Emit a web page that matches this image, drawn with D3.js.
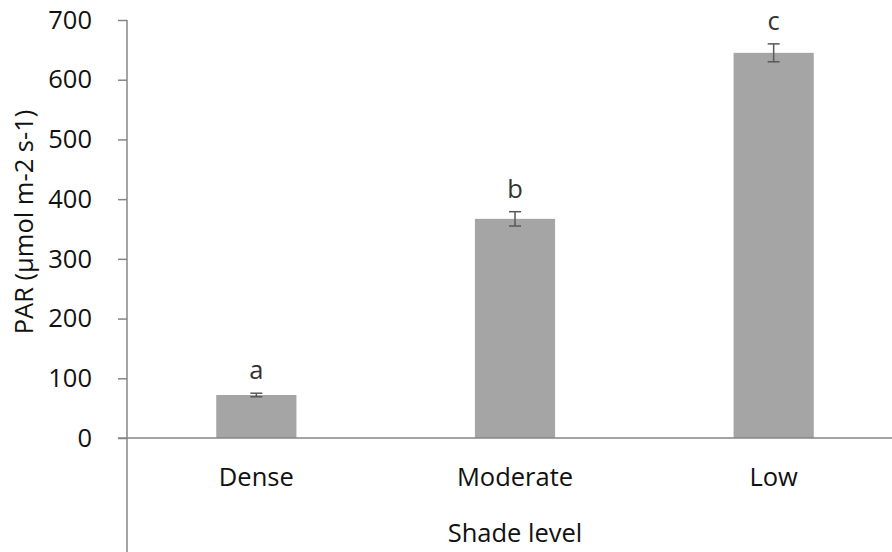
<!DOCTYPE html>
<html>
<head>
<meta charset="utf-8">
<script src="https://cdn.jsdelivr.net/npm/d3@7"></script>
<style>
  html, body { margin: 0; padding: 0; background: #fff; }
  svg { display: block; font-family: "Open Sans", "Noto Sans", sans-serif; }
</style>
</head>
<body>
<svg id="chart" width="892" height="552"></svg>
<script>
// Mean PAR under each shade level, with standard errors and significance letters
const categories = ["Dense", "Moderate", "Low"];
const parMeans = [72, 367, 645];
const parErrors = [3, 12, 15];
const sigLetters = ["a", "b", "c"];
const yTicks = [0, 100, 200, 300, 400, 500, 600, 700];

const svg = d3.select("#chart");
const W = 892, H = 552;
const x0 = 127, yTop = 20, yZero = 438;
const fs = 25.5;

const y = d3.scaleLinear().domain([0, 700]).range([yZero, yTop]);
const x = d3.scaleBand()
  .domain(categories)
  .range([x0, x0 + 776])
  .paddingInner(0.69)
  .paddingOuter(0.345);

const axisColor = "#868686";
const textColor = "#111";

// Y axis
const yAxis = d3.axisLeft(y).tickValues(yTicks).tickSize(9).tickPadding(26).tickFormat(d3.format("d"));
const gy = svg.append("g").attr("transform", `translate(${x0},0)`).call(yAxis);
gy.select(".domain").remove();
gy.selectAll(".tick line").attr("stroke", axisColor).attr("stroke-width", 1.5);
gy.selectAll(".tick text").attr("fill", textColor).attr("font-size", fs).attr("font-family", "Open Sans, sans-serif");
// vertical axis line continues down past the category labels
svg.append("line")
  .attr("x1", x0).attr("x2", x0)
  .attr("y1", y(700)).attr("y2", H)
  .attr("stroke", axisColor).attr("stroke-width", 1.5);

// Bars
svg.append("g").selectAll("rect")
  .data(categories)
  .join("rect")
  .attr("x", d => x(d))
  .attr("width", x.bandwidth())
  .attr("y", (d, i) => y(parMeans[i]))
  .attr("height", (d, i) => y(0) - y(parMeans[i]))
  .attr("fill", "#a5a5a5");

// X axis line at zero
svg.append("line")
  .attr("x1", x0 - 9).attr("x2", W)
  .attr("y1", y(0)).attr("y2", y(0))
  .attr("stroke", axisColor).attr("stroke-width", 1.5);

// Error bars
const eb = svg.append("g").attr("stroke", "#595959").attr("stroke-width", 1.5);
categories.forEach((c, i) => {
  const cx = x(c) + x.bandwidth() / 2;
  const lo = y(parMeans[i] - parErrors[i]);
  const hi = y(parMeans[i] + parErrors[i]);
  eb.append("line").attr("x1", cx).attr("x2", cx).attr("y1", lo).attr("y2", hi);
  eb.append("line").attr("x1", cx - 6).attr("x2", cx + 6).attr("y1", lo).attr("y2", lo);
  eb.append("line").attr("x1", cx - 6).attr("x2", cx + 6).attr("y1", hi).attr("y2", hi);
});

// Significance letters
svg.append("g").selectAll("text")
  .data(categories)
  .join("text")
  .attr("x", d => x(d) + x.bandwidth() / 2)
  .attr("y", (d, i) => y(parMeans[i] + parErrors[i]) - 14)
  .attr("text-anchor", "middle")
  .attr("font-size", fs)
  .attr("fill", "#333")
  .text((d, i) => sigLetters[i]);

// Category labels
svg.append("g").selectAll("text")
  .data(categories)
  .join("text")
  .attr("x", d => x(d) + x.bandwidth() / 2)
  .attr("y", 486)
  .attr("text-anchor", "middle")
  .attr("font-size", fs)
  .attr("fill", textColor)
  .text(d => d);

// Axis titles
svg.append("text")
  .attr("x", x("Moderate") + x.bandwidth() / 2)
  .attr("y", 542)
  .attr("text-anchor", "middle")
  .attr("font-size", fs)
  .attr("fill", textColor)
  .text("Shade level");

svg.append("text")
  .attr("transform", "translate(33,222) rotate(-90)")
  .attr("text-anchor", "middle")
  .attr("font-size", fs)
  .attr("fill", textColor)
  .text("PAR (µmol m-2 s-1)");
</script>
</body>
</html>
